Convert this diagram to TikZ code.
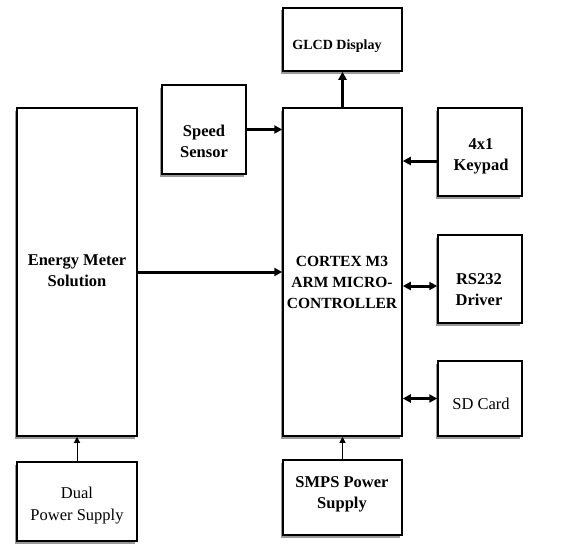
\documentclass[tikz,border=0pt]{standalone}
\usepackage{fontspec}
\setmainfont{Liberation Serif}
\usetikzlibrary{arrows.meta,shadows}
\tikzset{
  blk/.style={draw=black, line width=1.5pt, fill=white,
    drop shadow={shadow xshift=-2.5pt, shadow yshift=-2.5pt, fill=black!40, opacity=1}},
  txt/.style={align=center, font=\bfseries\fontsize{16.5}{21}\selectfont},
  txtr/.style={align=center, font=\fontsize{16.5}{22}\selectfont},
  bus/.style={line width=3pt, -{Triangle[length=8pt,width=8pt]}},
  biBus/.style={line width=3pt, {Triangle[length=8pt,width=8pt]}-{Triangle[length=8pt,width=8pt]}},
  feed/.style={line width=1pt, -{Triangle[length=6pt,width=6pt]}}
}
\begin{document}
\begin{tikzpicture}[x=1pt,y=-1pt]
  \useasboundingbox (0,0) rectangle (572,543);

  % blocks
  \node[blk, minimum width=119pt, minimum height=63pt] (glcd) at (342.5,39.5) {};
  \node[blk, minimum width=84pt, minimum height=89pt] (speed) at (204,129.5) {};
  \node[blk, minimum width=120pt, minimum height=328pt] (energy) at (77,272) {};
  \node[blk, minimum width=119pt, minimum height=328pt] (cpu) at (342.5,272) {};
  \node[blk, minimum width=84pt, minimum height=88pt] (keypad) at (480,152) {};
  \node[blk, minimum width=84pt, minimum height=88pt] (rs) at (480,279) {};
  \node[blk, minimum width=84pt, minimum height=75pt] (sd) at (480,398.5) {};
  \node[blk, minimum width=120pt, minimum height=79pt] (dual) at (77,501.5) {};
  \node[blk, minimum width=119pt, minimum height=75pt] (smps) at (342.5,497.5) {};

  % texts
  \node[txt, font=\bfseries\fontsize{14}{16}\selectfont] (glcdT) at (337,46) {GLCD Display};
  \node[txt] (speedT) at (204,141) {Speed\\Sensor};
  \node[txt] (energyT) at (77,271) {Energy Meter\\Solution};
  \node[txt, font=\bfseries\fontsize{15.5}{21}\selectfont] (cpuT) at (342,282) {CORTEX M3\\ARM MICRO-\\CONTROLLER};
  \node[txt] (keypadT) at (481,156) {4x1\\Keypad};
  \node[txt] (rsT) at (479,290) {RS232\\Driver};
  \node[txtr] (sdT) at (481,404) {SD Card};
  \node[txtr] (dualT) at (77,506) {Dual\\Power Supply};
  \node[txt] (smpsT) at (342,494) {SMPS Power\\Supply};

  % links
  \draw[bus] (cpu.north) -- (glcd.south);
  \draw[bus] (speed.east) -- (speed.east -| cpu.west);
  \draw[bus] ([yshift=-9pt]keypad.west) -- ([yshift=-9pt]keypad.west -| cpu.east);
  \draw[bus] (energy.east) -- (cpu.west);
  \draw[biBus] ([yshift=-7pt]rs.west) -- ([yshift=-7pt]rs.west -| cpu.east);
  \draw[biBus] (sd.west) -- (sd.west -| cpu.east);
  \draw[feed] (dual.north) -- (energy.south);
  \draw[feed] (smps.north) -- (cpu.south);

\end{tikzpicture}
\end{document}
